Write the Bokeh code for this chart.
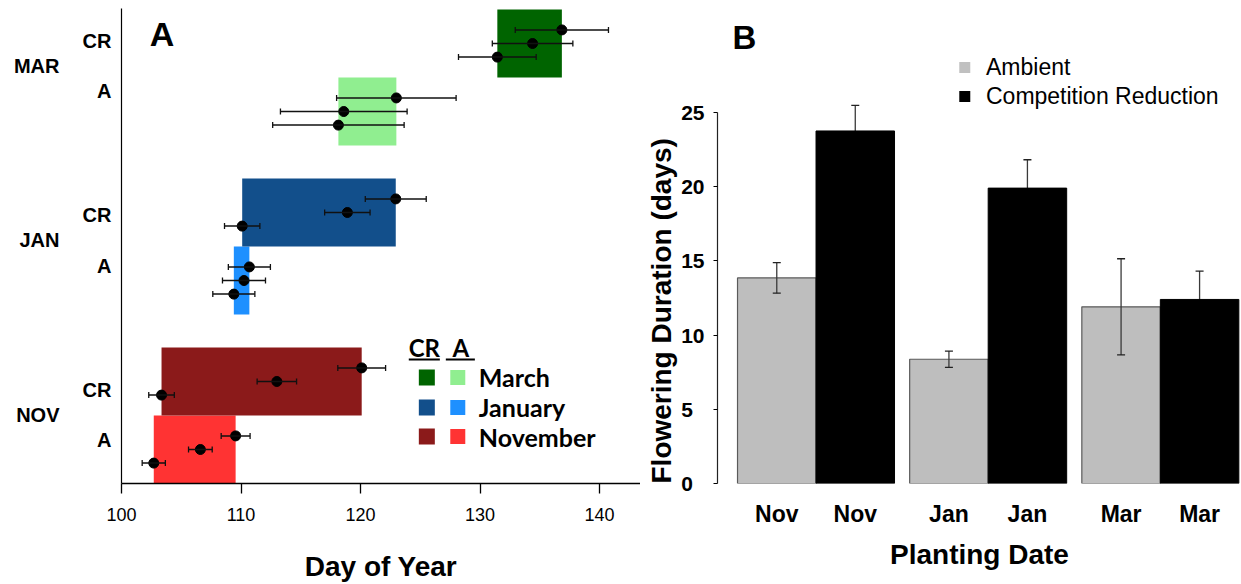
from bokeh.plotting import figure
from bokeh.models import (ColumnDataSource, Whisker, TeeHead, Label, FixedTicker, Range1d,
                          LinearAxis, Title)
from bokeh.layouts import row
from bokeh.embed import file_html
from bokeh.resources import INLINE
from bokeh.core.properties import value

# ---------------- Panel A: flowering phenology (day of year) ----------------
months = ["NOV", "JAN", "MAR"]
month_names = ["November", "January", "March"]
treatments = ["A", "CR"]
# start, peak and end of flowering (mean day of year) and their standard errors
nov_a_days = [102.7, 106.6, 109.55]
nov_a_se = [0.97, 0.99, 1.21]
nov_cr_days = [103.35, 113.0, 120.1]
nov_cr_se = [1.07, 1.65, 2.0]
jan_a_days = [109.4, 110.25, 110.7]
jan_a_se = [1.76, 1.8, 1.76]
jan_cr_days = [110.1, 118.9, 122.95]
jan_cr_se = [1.48, 1.9, 2.55]
mar_a_days = [118.15, 118.6, 123.0]
mar_a_se = [5.5, 5.3, 5.0]
mar_cr_days = [131.45, 134.4, 136.85]
mar_cr_se = [3.25, 3.37, 3.9]

colors_a = ["#ff3333", "#1e90ff", "#90ee90"]
colors_cr = ["#8b1a1a", "#124f8b", "#006400"]

# ---------------- Panel B: flowering duration ----------------
planting = ["Nov", "Jan", "Mar"]
series_names = ["Ambient", "Competition Reduction"]
ambient_dur = [13.85, 8.37, 11.9]
ambient_se = [1.03, 0.55, 3.24]
cr_dur = [23.75, 19.9, 12.4]
cr_se = [1.72, 1.91, 1.91]

ARIAL = "Liberation Sans"
CAL = "Lato"

# ============================ Panel A ============================
p1 = figure(width=640, height=584, x_range=Range1d(100, 143.43), y_range=Range1d(0, 6.985),
            output_backend="svg", toolbar_location=None,
            min_border_left=121, min_border_right=0, min_border_top=8, min_border_bottom=101)
p1.grid.visible = False
p1.outline_line_color = None
p1.background_fill_color = "white"

GROUP_STEP = 2.485   # vertical distance between planting groups
frac = [0.3, 0.5, 0.7]  # start / peak / end offsets within a row

groups_a = [nov_a_days, jan_a_days, mar_a_days]
groups_a_se = [nov_a_se, jan_a_se, mar_a_se]
groups_cr = [nov_cr_days, jan_cr_days, mar_cr_days]
groups_cr_se = [nov_cr_se, jan_cr_se, mar_cr_se]

bar_y, bar_l, bar_r, bar_c = [], [], [], []
pt_x, pt_y, pt_lo, pt_hi = [], [], [], []
for g in range(3):
    base = g * GROUP_STEP
    for k, (days, se, col) in enumerate([(groups_a[g], groups_a_se[g], colors_a[g]),
                                         (groups_cr[g], groups_cr_se[g], colors_cr[g])]):
        row_base = base + k
        bar_y.append(row_base + 0.5)
        bar_l.append(days[0])
        bar_r.append(days[-1])
        bar_c.append(col)
        for d, s, f in zip(days, se, frac):
            pt_x.append(d)
            pt_y.append(row_base + f)
            pt_lo.append(d - s)
            pt_hi.append(d + s)

p1.hbar(y=bar_y, left=bar_l, right=bar_r, height=1.0, fill_color=bar_c, line_color=None)

err_src = ColumnDataSource(dict(y=pt_y, lo=pt_lo, hi=pt_hi))
p1.add_layout(Whisker(source=err_src, base="y", lower="lo", upper="hi", dimension="width",
                      line_color="#111111", line_width=1.5, level="annotation",
                      upper_head=TeeHead(size=6, line_color="#111111", line_width=1.3),
                      lower_head=TeeHead(size=6, line_color="#111111", line_width=1.3)))
p1.scatter(x=pt_x, y=pt_y, size=10, color="black")

xa = p1.xaxis[0]
xa.ticker = FixedTicker(ticks=[100, 110, 120, 130, 140])
xa.minor_tick_line_color = None
xa.major_tick_out = 10
xa.major_tick_in = 0
xa.axis_line_color = "black"
xa.axis_line_width = 1.3
xa.major_tick_line_width = 1.3
xa.major_label_standoff = 14
xa.major_label_text_font = ARIAL
xa.major_label_text_font_size = "18px"
xa.major_label_text_color = "black"
xa.axis_label = "Day of Year"
xa.axis_label_text_font = ARIAL
xa.axis_label_text_font_style = "bold"
xa.axis_label_text_font_size = "28px"
xa.axis_label_text_color = "black"
xa.axis_label_standoff = 27

# inner left axis: treatment labels (CR / A) for each planting group
month_centers = [1.01 + g * 2.565 for g in range(len(months))]
trt_ticks, trt_labels = [], {}
for c in month_centers:
    for t, off in zip(["A", "CR"], [-0.37, 0.37]):
        trt_ticks.append(c + off)
        trt_labels[c + off] = t

ya = p1.yaxis[0]
ya.ticker = FixedTicker(ticks=trt_ticks)
ya.major_label_overrides = trt_labels
ya.minor_tick_line_color = None
ya.major_tick_line_color = None
ya.major_tick_out = 0
ya.major_tick_in = 0
ya.major_label_standoff = 10
ya.major_label_text_font = ARIAL
ya.major_label_text_font_style = "bold"
ya.major_label_text_font_size = "20px"
ya.major_label_text_color = "black"
ya.axis_line_color = "black"
ya.axis_line_width = 1.2

# outer left axis: planting month names
ya2 = LinearAxis(ticker=FixedTicker(ticks=month_centers),
                 major_label_overrides={c: m for c, m in zip(month_centers, months)},
                 axis_line_color=None, major_tick_line_color=None, minor_tick_line_color=None,
                 major_tick_out=0, major_tick_in=0, major_label_standoff=20,
                 major_label_text_font=ARIAL, major_label_text_font_style="bold",
                 major_label_text_font_size="20px", major_label_text_color="black")
p1.add_layout(ya2, "left")

p1.add_layout(Label(x=102.37, y=6.61, text="A", text_align="left", text_baseline="middle",
                    text_font=ARIAL, text_font_style="bold", text_font_size="34px",
                    text_color="black"))

# legend: treatment headers with underline, then one row per planting month
p1.text(x=[125.34, 128.39], y=[2.0, 2.0], text=["CR", "A"], text_align="center",
        text_baseline="middle", text_font=value(CAL), text_font_style="bold",
        text_font_size="24px", text_color="black")
p1.segment(x0=[124.04, 127.14], x1=[126.64, 129.57], y0=[1.824, 1.824], y1=[1.824, 1.824],
           line_color="black", line_width=2)
leg_rows = [1.559, 1.118, 0.691]  # March, January, November
leg_names = month_names[::-1]
leg_cr = colors_cr[::-1]
leg_a = colors_a[::-1]
p1.scatter(x=[125.55] * 3, y=leg_rows, marker="square", size=16, fill_color=leg_cr,
           line_color=None)
p1.scatter(x=[128.14] * 3, y=leg_rows, marker="square", size=15, fill_color=leg_a,
           line_color=None)
p1.text(x=[129.9] * 3, y=leg_rows, text=leg_names, text_align="left", text_baseline="middle",
        text_font=value(CAL), text_font_style="bold", text_font_size="25px",
        text_color="black")

# ============================ Panel B ============================
p2 = figure(width=601, height=584, x_range=Range1d(0, 6.675), y_range=Range1d(0, 32.0),
            output_backend="svg", toolbar_location=None,
            min_border_left=77, min_border_right=0, min_border_top=8, min_border_bottom=101)
p2.grid.visible = False
p2.outline_line_color = None

GROUP_GAP = 2.193
amb_x = [0.755 + GROUP_GAP * i for i in range(len(planting))]
cr_x = [x + 1.0 for x in amb_x]

# competition-reduction error bars sit behind their bars, so only the upper arm shows
cr_eb = ColumnDataSource(dict(x=cr_x, lo=[v - s for v, s in zip(cr_dur, cr_se)],
                              hi=[v + s for v, s in zip(cr_dur, cr_se)]))
p2.add_layout(Whisker(source=cr_eb, base="x", lower="lo", upper="hi", dimension="height",
                      line_color="#3a3a3a", line_width=1.3, level="underlay",
                      upper_head=TeeHead(size=8, line_color="#222222", line_width=1.3),
                      lower_head=TeeHead(size=8, line_color="#222222", line_width=1.3)))

p2.vbar(x=amb_x, top=ambient_dur, width=1.0, fill_color="#bebebe", line_color="#5a5a5a",
        line_width=1.2)
p2.vbar(x=cr_x, top=cr_dur, width=1.0, fill_color="black", line_color="black")

amb_eb = ColumnDataSource(dict(x=amb_x, lo=[v - s for v, s in zip(ambient_dur, ambient_se)],
                               hi=[v + s for v, s in zip(ambient_dur, ambient_se)]))
p2.add_layout(Whisker(source=amb_eb, base="x", lower="lo", upper="hi", dimension="height",
                      line_color="#3a3a3a", line_width=1.3, level="annotation",
                      upper_head=TeeHead(size=8, line_color="#222222", line_width=1.3),
                      lower_head=TeeHead(size=8, line_color="#222222", line_width=1.3)))

bx = p2.xaxis[0]
ticks_b = sorted(amb_x + cr_x)
bx.ticker = FixedTicker(ticks=ticks_b)
bx.major_label_overrides = {t: planting[i // 2] for i, t in enumerate(ticks_b)}
bx.axis_line_color = None
bx.major_tick_line_color = None
bx.minor_tick_line_color = None
bx.major_label_standoff = 11
bx.major_label_text_font = ARIAL
bx.major_label_text_font_style = "bold"
bx.major_label_text_font_size = "23px"
bx.major_label_text_color = "black"
bx.axis_label = "Planting Date"
bx.axis_label_text_font = ARIAL
bx.axis_label_text_font_style = "bold"
bx.axis_label_text_font_size = "28px"
bx.axis_label_text_color = "black"
bx.axis_label_standoff = 9

by = p2.yaxis[0]
by.ticker = FixedTicker(ticks=[0, 5, 10, 15, 20, 25])
by.bounds = (0, 25)
by.major_label_overrides = {0: "0\u2007", 5: "5\u2007"}
by.minor_tick_line_color = None
by.major_tick_out = 4
by.major_tick_in = 0
by.axis_line_color = "#222222"
by.axis_line_width = 1.2
by.major_label_standoff = 9
by.major_label_text_font = ARIAL
by.major_label_text_font_style = "bold"
by.major_label_text_font_size = "21px"
by.major_label_text_color = "black"

# y-axis title, anchored at the bottom of the plotting area
p2.add_layout(Title(text="Flowering Duration (days)", align="left", vertical_align="top",
                    standoff=0, text_font=ARIAL, text_font_style="bold",
                    text_font_size="28px", text_color="black"), "left")

# legend
p2.scatter(x=[3.15, 3.15], y=[28.03, 26.08], marker="square", size=11,
           fill_color=["#c0c0c0", "black"], line_color=None)
p2.text(x=[3.42, 3.42], y=[28.03, 26.08], text=series_names, text_align="left",
        text_baseline="middle", text_font=value(ARIAL), text_font_size="23px",
        text_color="black")

p2.add_layout(Label(x=0.19, y=30.05, text="B", text_align="left", text_baseline="middle",
                    text_font=ARIAL, text_font_style="bold", text_font_size="33px",
                    text_color="black"))

layout = row(p1, p2)
open("out.html", "w").write(file_html(layout, INLINE))
